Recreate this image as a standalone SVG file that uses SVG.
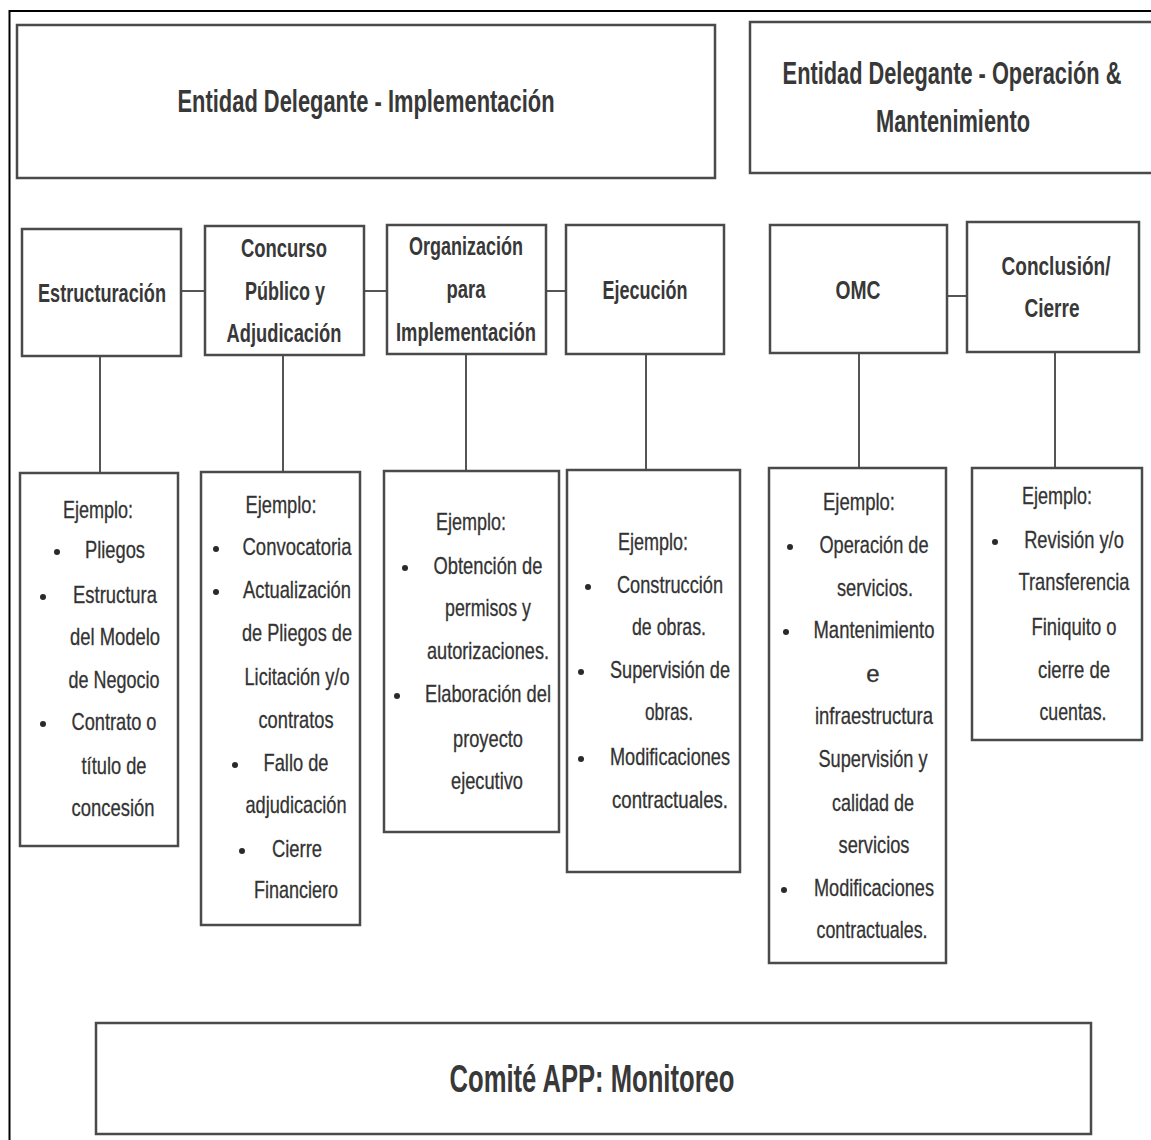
<svg xmlns="http://www.w3.org/2000/svg" width="1151" height="1140" viewBox="0 0 1151 1140">
  <style>
    .box { fill: #ffffff; stroke: #4a4a4a; stroke-width: 2.5; }
    .link { stroke: #555555; stroke-width: 2; fill: none; }
    .head { font-family: "Liberation Sans", Arial, sans-serif; font-weight: bold; fill: #383838; text-anchor: middle; }
    .body { font-family: "Liberation Sans", Arial, sans-serif; fill: #333333; text-anchor: middle; font-size: 24px; stroke: #333333; stroke-width: 0.3; }
    .dot { fill: #2a2a2a; }
  </style>
  <rect width="1151" height="1140" fill="#ffffff"/>
  <!-- page frame -->
  <path d="M9.5 1140 V11 H1151" fill="none" stroke="#000000" stroke-width="2"/>

  <!-- connectors -->
  <g id="connectors">
    <line class="link" x1="181" y1="291" x2="205" y2="291"/>
    <line class="link" x1="364" y1="291" x2="387" y2="291"/>
    <line class="link" x1="546" y1="291" x2="566" y2="291"/>
    <line class="link" x1="947" y1="296" x2="967" y2="296"/>
    <line class="link" x1="100" y1="356" x2="100" y2="473"/>
    <line class="link" x1="283" y1="355" x2="283" y2="472"/>
    <line class="link" x1="466" y1="354" x2="466" y2="471"/>
    <line class="link" x1="646" y1="354" x2="646" y2="470"/>
    <line class="link" x1="859" y1="353" x2="859" y2="468"/>
    <line class="link" x1="1055" y1="352" x2="1055" y2="468"/>
  </g>

  <!-- top headers -->
  <g id="entidad-implementacion">
    <rect class="box" x="17" y="25" width="698" height="153"/>
    <text class="head" x="366" y="112" font-size="32" textLength="377" lengthAdjust="spacingAndGlyphs">Entidad Delegante - Implementación</text>
  </g>
  <g id="entidad-operacion">
    <rect class="box" x="750" y="22" width="410" height="151"/>
    <text class="head" transform="translate(952,84) scale(0.7,1)" x="0" y="0" font-size="32" textLength="484" lengthAdjust="spacingAndGlyphs">Entidad Delegante - Operación &amp;</text>
    <text class="head" x="953" y="132" font-size="32" textLength="154" lengthAdjust="spacingAndGlyphs">Mantenimiento</text>
  </g>

  <!-- phase boxes -->
  <g id="estructuracion">
    <rect class="box" x="22" y="229" width="159" height="127"/>
    <text class="head" x="102" y="302" font-size="26" textLength="128" lengthAdjust="spacingAndGlyphs">Estructuración</text>
  </g>
  <g id="concurso">
    <rect class="box" x="205" y="226" width="159" height="129"/>
    <text class="head" x="284" y="257" font-size="26" textLength="86" lengthAdjust="spacingAndGlyphs">Concurso</text>
    <text class="head" x="285" y="300" font-size="26" textLength="80" lengthAdjust="spacingAndGlyphs">Público y</text>
    <text class="head" x="284" y="342" font-size="26" textLength="115" lengthAdjust="spacingAndGlyphs">Adjudicación</text>
  </g>
  <g id="organizacion">
    <rect class="box" x="387" y="225" width="159" height="129"/>
    <text class="head" x="466" y="255" font-size="26" textLength="114" lengthAdjust="spacingAndGlyphs">Organización</text>
    <text class="head" x="466" y="298" font-size="26" textLength="39" lengthAdjust="spacingAndGlyphs">para</text>
    <text class="head" x="466" y="341" font-size="26" textLength="140" lengthAdjust="spacingAndGlyphs">Implementación</text>
  </g>
  <g id="ejecucion">
    <rect class="box" x="566" y="225" width="158" height="129"/>
    <text class="head" x="645" y="299" font-size="26" textLength="85" lengthAdjust="spacingAndGlyphs">Ejecución</text>
  </g>
  <g id="omc">
    <rect class="box" x="770" y="225" width="177" height="128"/>
    <text class="head" x="858" y="299" font-size="26" textLength="45" lengthAdjust="spacingAndGlyphs">OMC</text>
  </g>
  <g id="conclusion">
    <rect class="box" x="967" y="222" width="172" height="130"/>
    <text class="head" x="1056" y="275" font-size="26" textLength="109" lengthAdjust="spacingAndGlyphs">Conclusión/</text>
    <text class="head" x="1052" y="317" font-size="26" textLength="55" lengthAdjust="spacingAndGlyphs">Cierre</text>
  </g>

  <!-- example boxes -->
  <g id="ejemplo-estructuracion">
    <rect class="box" x="20" y="473" width="158" height="373"/>
    <text class="body" x="98" y="518" textLength="70" lengthAdjust="spacingAndGlyphs">Ejemplo:</text>
    <circle class="dot" cx="57" cy="552" r="3"/>
    <text class="body" x="115" y="558" textLength="60" lengthAdjust="spacingAndGlyphs">Pliegos</text>
    <circle class="dot" cx="43" cy="597" r="3"/>
    <text class="body" x="115" y="603" textLength="84" lengthAdjust="spacingAndGlyphs">Estructura</text>
    <text class="body" x="115" y="645" textLength="90" lengthAdjust="spacingAndGlyphs">del Modelo</text>
    <text class="body" x="114" y="688" textLength="91" lengthAdjust="spacingAndGlyphs">de Negocio</text>
    <circle class="dot" cx="43" cy="724" r="3"/>
    <text class="body" x="114" y="730" textLength="85" lengthAdjust="spacingAndGlyphs">Contrato o</text>
    <text class="body" x="114" y="774" textLength="65" lengthAdjust="spacingAndGlyphs">título de</text>
    <text class="body" x="113" y="816" textLength="83" lengthAdjust="spacingAndGlyphs">concesión</text>
  </g>
  <g id="ejemplo-concurso">
    <rect class="box" x="201" y="472" width="159" height="453"/>
    <text class="body" x="281" y="513" textLength="71" lengthAdjust="spacingAndGlyphs">Ejemplo:</text>
    <circle class="dot" cx="216" cy="549" r="3"/>
    <text class="body" x="297" y="555" textLength="109" lengthAdjust="spacingAndGlyphs">Convocatoria</text>
    <circle class="dot" cx="216" cy="592" r="3"/>
    <text class="body" x="297" y="598" textLength="108" lengthAdjust="spacingAndGlyphs">Actualización</text>
    <text class="body" x="297" y="641" textLength="110" lengthAdjust="spacingAndGlyphs">de Pliegos de</text>
    <text class="body" x="297" y="685" textLength="105" lengthAdjust="spacingAndGlyphs">Licitación y/o</text>
    <text class="body" x="296" y="728" textLength="75" lengthAdjust="spacingAndGlyphs">contratos</text>
    <circle class="dot" cx="235" cy="765" r="3"/>
    <text class="body" x="296" y="771" textLength="65" lengthAdjust="spacingAndGlyphs">Fallo de</text>
    <text class="body" x="296" y="813" textLength="101" lengthAdjust="spacingAndGlyphs">adjudicación</text>
    <circle class="dot" cx="242" cy="851" r="3"/>
    <text class="body" x="297" y="857" textLength="50" lengthAdjust="spacingAndGlyphs">Cierre</text>
    <text class="body" x="296" y="898" textLength="84" lengthAdjust="spacingAndGlyphs">Financiero</text>
  </g>
  <g id="ejemplo-organizacion">
    <rect class="box" x="384" y="471" width="175" height="361"/>
    <text class="body" x="471" y="530" textLength="70" lengthAdjust="spacingAndGlyphs">Ejemplo:</text>
    <circle class="dot" cx="405" cy="568" r="3"/>
    <text class="body" x="488" y="574" textLength="109" lengthAdjust="spacingAndGlyphs">Obtención de</text>
    <text class="body" x="488" y="616" textLength="86" lengthAdjust="spacingAndGlyphs">permisos y</text>
    <text class="body" x="488" y="659" textLength="122" lengthAdjust="spacingAndGlyphs">autorizaciones.</text>
    <circle class="dot" cx="397" cy="696" r="3"/>
    <text class="body" x="488" y="702" textLength="126" lengthAdjust="spacingAndGlyphs">Elaboración del</text>
    <text class="body" x="488" y="747" textLength="70" lengthAdjust="spacingAndGlyphs">proyecto</text>
    <text class="body" x="487" y="789" textLength="72" lengthAdjust="spacingAndGlyphs">ejecutivo</text>
  </g>
  <g id="ejemplo-ejecucion">
    <rect class="box" x="567" y="470" width="173" height="402"/>
    <text class="body" x="653" y="550" textLength="70" lengthAdjust="spacingAndGlyphs">Ejemplo:</text>
    <circle class="dot" cx="588" cy="587" r="3"/>
    <text class="body" x="670" y="593" textLength="106" lengthAdjust="spacingAndGlyphs">Construcción</text>
    <text class="body" x="669" y="635" textLength="74" lengthAdjust="spacingAndGlyphs">de obras.</text>
    <circle class="dot" cx="581" cy="672" r="3"/>
    <text class="body" x="670" y="678" textLength="120" lengthAdjust="spacingAndGlyphs">Supervisión de</text>
    <text class="body" x="669" y="720" textLength="48" lengthAdjust="spacingAndGlyphs">obras.</text>
    <circle class="dot" cx="581" cy="759" r="3"/>
    <text class="body" x="670" y="765" textLength="120" lengthAdjust="spacingAndGlyphs">Modificaciones</text>
    <text class="body" x="670" y="808" textLength="116" lengthAdjust="spacingAndGlyphs">contractuales.</text>
  </g>
  <g id="ejemplo-omc">
    <rect class="box" x="769" y="468" width="177" height="495"/>
    <text class="body" x="859" y="510" textLength="72" lengthAdjust="spacingAndGlyphs">Ejemplo:</text>
    <circle class="dot" cx="790" cy="547" r="3"/>
    <text class="body" x="874" y="553" textLength="109" lengthAdjust="spacingAndGlyphs">Operación de</text>
    <text class="body" x="875" y="596" textLength="76" lengthAdjust="spacingAndGlyphs">servicios.</text>
    <circle class="dot" cx="786" cy="632" r="3"/>
    <text class="body" x="874" y="638" textLength="121" lengthAdjust="spacingAndGlyphs">Mantenimiento</text>
    <text class="body" x="873" y="682">e</text>
    <text class="body" x="874" y="724" textLength="118" lengthAdjust="spacingAndGlyphs">infraestructura</text>
    <text class="body" x="873" y="767" textLength="109" lengthAdjust="spacingAndGlyphs">Supervisión y</text>
    <text class="body" x="873" y="811" textLength="82" lengthAdjust="spacingAndGlyphs">calidad de</text>
    <text class="body" x="874" y="853" textLength="71" lengthAdjust="spacingAndGlyphs">servicios</text>
    <circle class="dot" cx="784" cy="890" r="3"/>
    <text class="body" x="874" y="896" textLength="120" lengthAdjust="spacingAndGlyphs">Modificaciones</text>
    <text class="body" x="872" y="938" textLength="111" lengthAdjust="spacingAndGlyphs">contractuales.</text>
  </g>
  <g id="ejemplo-conclusion">
    <rect class="box" x="972" y="468" width="170" height="272"/>
    <text class="body" x="1057" y="504" textLength="70" lengthAdjust="spacingAndGlyphs">Ejemplo:</text>
    <circle class="dot" cx="995" cy="542" r="3"/>
    <text class="body" transform="translate(1074,548) scale(0.75,1)" x="0" y="0" textLength="133" lengthAdjust="spacingAndGlyphs">Revisión y/o</text>
    <text class="body" transform="translate(1074,590) scale(0.75,1)" x="0" y="0" textLength="148" lengthAdjust="spacingAndGlyphs">Transferencia</text>
    <text class="body" x="1074" y="635" textLength="85" lengthAdjust="spacingAndGlyphs">Finiquito o</text>
    <text class="body" x="1074" y="678" textLength="72" lengthAdjust="spacingAndGlyphs">cierre de</text>
    <text class="body" x="1073" y="720" textLength="67" lengthAdjust="spacingAndGlyphs">cuentas.</text>
  </g>

  <!-- monitoring committee -->
  <g id="comite-app">
    <rect class="box" x="96" y="1023" width="995" height="111"/>
    <text class="head" x="592" y="1092" font-size="38" textLength="285" lengthAdjust="spacingAndGlyphs">Comité APP: Monitoreo</text>
  </g>
</svg>
